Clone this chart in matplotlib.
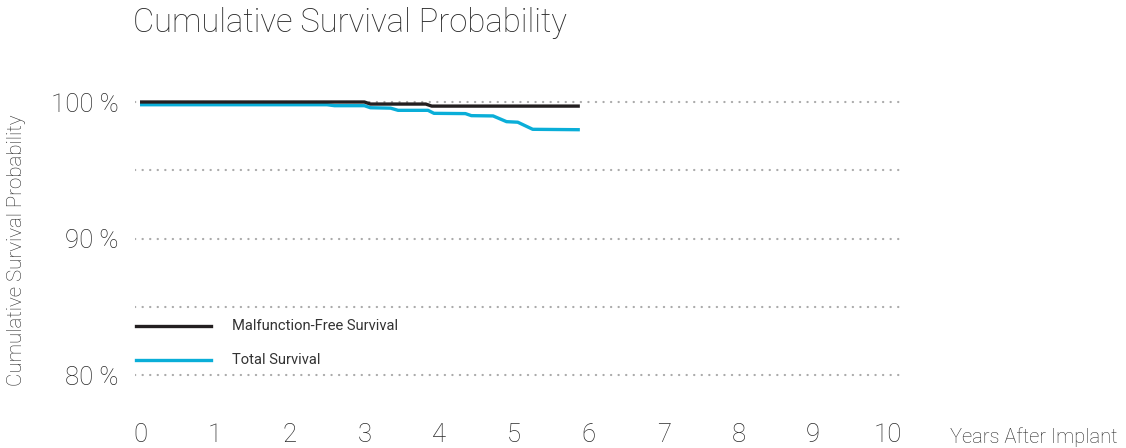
import matplotlib
matplotlib.use('Agg')
from matplotlib import pyplot as plt

# years after implant / survival in percent
years_mf = [0, 3.0, 3.08, 3.82, 3.9, 5.88]
surv_mf = [100.0, 100.0, 99.85, 99.85, 99.7, 99.7]

years_total = [0, 2.5, 2.6, 3.0, 3.08, 3.35, 3.45, 3.85, 3.93, 4.35, 4.43, 4.72, 4.9, 5.05, 5.25, 5.88]
surv_total = [99.8, 99.8, 99.73, 99.73, 99.58, 99.55, 99.39, 99.39, 99.17, 99.15, 99.0, 98.98, 98.56, 98.52, 98.0, 97.97]

x_ticks = list(range(0, 11))
y_ticks = [80, 90, 100]
grid_levels = [80, 85, 90, 95, 100]
y_labels = ['80 %', '90 %', '100 %']

black = '#231f20'
blue = '#0aaed8'
txt = '#2a2a2a'

plt.rcParams['font.family'] = ['Roboto', 'DejaVu Sans']

fig = plt.figure(figsize=(11.26, 4.48), dpi=100)
ax = fig.add_axes([135/1126, 1 - 416/448, (900 - 135)/1126, (416 - 88.35)/448])

for g in grid_levels:
    ax.axhline(g, color='#aaaaaa', lw=1.6, linestyle=(0, (0.1, 3.3)),
               dash_capstyle='round', zorder=1)

ax.plot(years_mf, surv_mf, color=black, lw=2.4, zorder=3, solid_capstyle='butt')
ax.plot(years_total, surv_total, color=blue, lw=2.4, zorder=2, solid_capstyle='butt')

ax.set_xlim(-0.067, 10.16)
ax.set_ylim(77, 101)

for s in ax.spines.values():
    s.set_visible(False)
ax.tick_params(length=0)
ax.set_xticks(x_ticks)
ax.set_xticklabels([str(t) for t in x_ticks], fontsize=18.5, color=txt, fontweight='light')
ax.tick_params(axis='x', pad=5)
ax.set_yticks(y_ticks)
ax.set_yticklabels(y_labels, fontsize=18.5, color=txt, fontweight='light')
ax.tick_params(axis='y', pad=12)

# legend drawn by hand like the reference
ax.plot([-0.05, 0.95], [83.6, 83.6], color=black, lw=2.4, clip_on=False)
ax.plot([-0.05, 0.95], [81.1, 81.1], color=blue, lw=2.4, clip_on=False)
ax.text(1.23, 83.6, 'Malfunction-Free Survival', fontsize=10.6, color='#333333', va='center')
ax.text(1.23, 81.1, 'Total Survival', fontsize=10.6, color='#333333', va='center')

fig.text(133/1126, 1 - 23/448, 'Cumulative Survival Probability', fontsize=23.6,
         color=txt, va='center', ha='left', fontweight='light')
fig.text(17/1126, 1 - 250/448, 'Cumulative Survival Probability', fontsize=14.8,
         color=txt, rotation=90, va='center', ha='center', fontweight='light')
fig.text(1118/1126, 1 - 437/448, 'Years After Implant', fontsize=14.5,
         color=txt, va='center', ha='right', fontweight='light')

plt.savefig('out.png', dpi=100)
